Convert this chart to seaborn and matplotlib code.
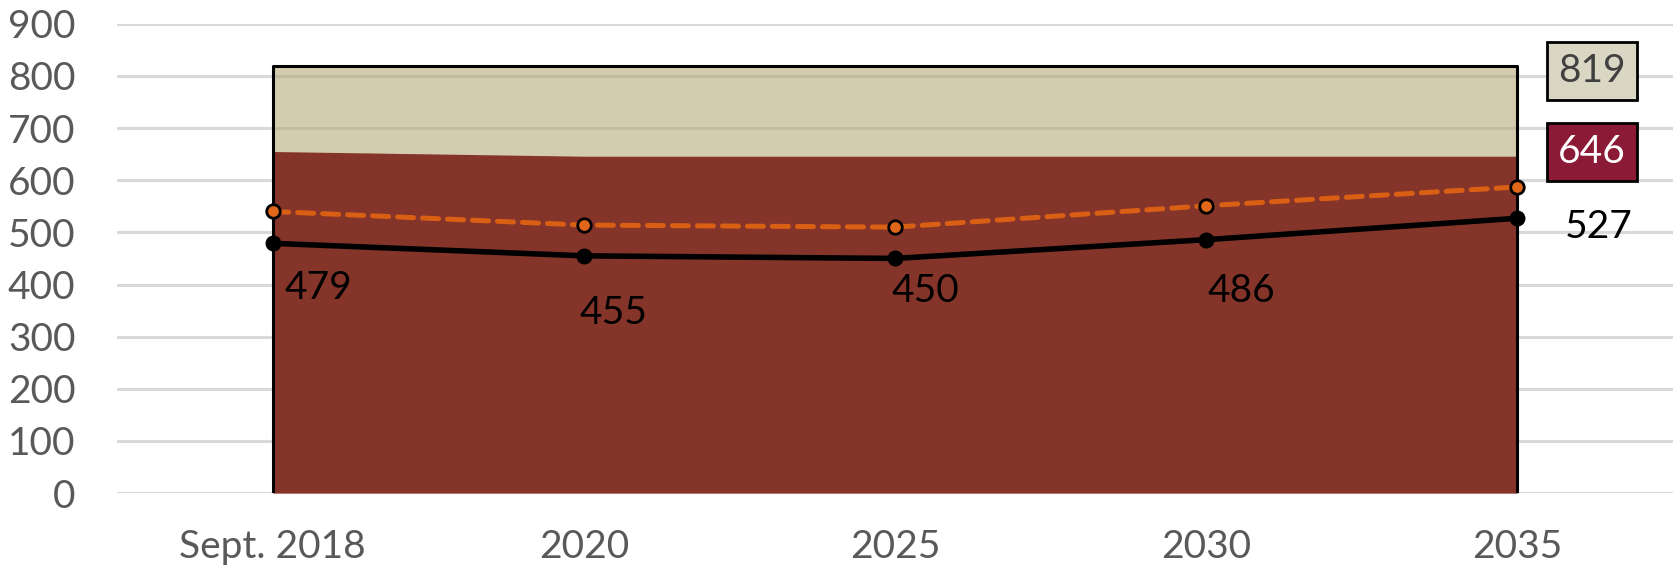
import matplotlib
matplotlib.use("Agg")
import matplotlib.pyplot as plt
import pandas as pd
import seaborn as sns

periods = ["Sept. 2018", "2020", "2025", "2030", "2035"]
capacity = [819, 819, 819, 819, 819]
enrolment_cap = [655, 646, 646, 646, 646]
projection = [479, 455, 450, 486, 527]
high_projection = [540, 514, 510, 551, 587]

# label offsets (pixels) from each black point, placed by hand like the original
label_offsets = [(46, -45), (30, -57), (30, -33), (35, -51), (81, -9)]

df = pd.DataFrame({
    "x": range(len(periods)),
    "period": periods,
    "capacity": capacity,
    "cap": enrolment_cap,
    "projection": projection,
    "high": high_projection,
})

sns.set_theme(style="white")
plt.rcParams["font.family"] = ["Lato", "DejaVu Sans"]

fig = plt.figure(figsize=(16.73, 5.69), dpi=100)
ax = fig.add_axes([0.07, 0.1333, 0.93, 0.825])

for v in range(0, 1000, 100):
    ax.axhline(v, color="#D9D9D9", lw=2.2, zorder=0)

ax.fill_between(df["x"], 0, df["capacity"], color=(182 / 255, 170 / 255, 123 / 255),
                alpha=0.6, lw=0, zorder=1)
ax.plot([0, 0, 4, 4], [0, capacity[0], capacity[-1], 0], color="black", lw=2.2, zorder=3)
ax.fill_between(df["x"], 0, df["cap"], color="#843429", lw=0, zorder=2)

ax.plot(df["x"], df["high"], color="#D95F14", lw=3.6, linestyle=(0, (3.2, 1.8)),
        dash_capstyle="round", zorder=4)
ax.scatter(df["x"], df["high"], s=95, color="#E0661A", edgecolor="black",
           linewidth=2, zorder=5)
sns.lineplot(data=df, x="x", y="projection", ax=ax, color="black", lw=4, zorder=6)
ax.scatter(df["x"], df["projection"], s=110, color="black", zorder=7)

for i, (val, off) in enumerate(zip(projection, label_offsets)):
    ax.annotate(str(val), (i, val), xytext=off, textcoords="offset pixels",
                ha="center", va="center", fontsize=28, color="black", zorder=8)

ax.text(1592, 569 - 71, str(capacity[-1]), transform=None, ha="center", va="center",
        fontsize=28, color="#404040",
        bbox=dict(boxstyle="square,pad=0.28", fc="#DAD6C4", ec="black", lw=2))
ax.text(1592, 569 - 152, str(enrolment_cap[-1]), transform=None, ha="center",
        va="center", fontsize=28, color="white",
        bbox=dict(boxstyle="square,pad=0.28", fc="#8A1A35", ec="black", lw=2))

ax.set_xlim(-0.5, 4.5)
ax.set_ylim(0, 900)
ax.set_xticks(range(len(periods)))
ax.set_xticklabels(periods)
ax.set_yticks(range(0, 1000, 100))
ax.tick_params(axis="both", labelsize=28, colors="#595959", length=0)
ax.tick_params(axis="y", pad=30)
ax.tick_params(axis="x", pad=26)
ax.set_xlabel("")
ax.set_ylabel("")
for s in ax.spines.values():
    s.set_visible(False)

fig.savefig("out.png", dpi=100)
